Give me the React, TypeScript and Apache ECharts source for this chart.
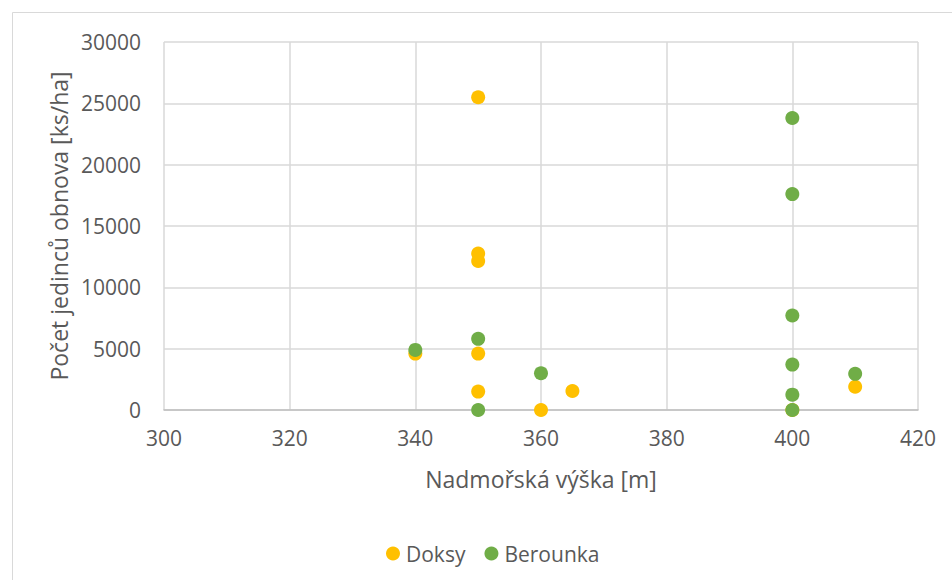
import React, { useEffect, useRef } from "react";
import * as echarts from "echarts";

const doksyX = [350, 350, 350, 350, 340, 350, 360, 365, 410, 400];
const doksyY = [25500, 12750, 12150, 4600, 4600, 1500, 0, 1550, 1900, 0];
const berounkaX = [340, 350, 350, 360, 400, 400, 400, 400, 400, 400, 410];
const berounkaY = [4900, 5800, 0, 3000, 23800, 17600, 7700, 3700, 1250, 0, 2950];

const xTitle = "Nadmořská výška [m]";
const yTitle = "Počet jedinců obnova [ks/ha]";
const FONT = "'Open Sans', 'Noto Sans', sans-serif";
const TXT = "#595959";

export default function App() {
  const ref = useRef<HTMLDivElement>(null);
  useEffect(() => {
    const chart = echarts.init(ref.current!, null, { renderer: "svg" });
    chart.setOption({
      animation: false,
      textStyle: { fontFamily: FONT },
      graphic: [
        {
          type: "rect",
          shape: { x: 12.5, y: 12.5, width: 960, height: 600 },
          style: { fill: "none", stroke: "#d9d9d9", lineWidth: 1 },
          silent: true,
        },
      ],
      grid: { left: 164, right: 34, top: 42, bottom: 170, containLabel: false },
      xAxis: {
        type: "value",
        min: 300,
        max: 420,
        interval: 20,
        name: xTitle,
        nameLocation: "middle",
        nameGap: 57,
        nameTextStyle: { color: TXT, fontSize: 23, fontFamily: FONT },
        axisLine: { show: true, lineStyle: { color: "#bfbfbf", width: 1.5 } },
        axisTick: { show: false },
        axisLabel: { color: TXT, fontSize: 21, margin: 17, fontFamily: FONT },
        splitLine: { show: true, lineStyle: { color: "#d9d9d9", width: 1.5 } },
      },
      yAxis: {
        type: "value",
        min: 0,
        max: 30000,
        interval: 5000,
        name: yTitle,
        nameLocation: "middle",
        nameGap: 90,
        nameTextStyle: { color: TXT, fontSize: 23, fontFamily: FONT },
        axisLine: { show: false },
        axisTick: { show: false },
        axisLabel: {
          color: TXT,
          fontSize: 21,
          margin: 23,
          fontFamily: FONT,
          formatter: (v: number) => String(v),
        },
        splitLine: { show: true, lineStyle: { color: "#d9d9d9", width: 1.5 } },
      },
      legend: {
        top: 538,
        left: 381,
        itemWidth: 14,
        itemHeight: 14,
        itemGap: 19,
        icon: "circle",
        textStyle: { color: TXT, fontSize: 21, fontFamily: FONT, padding: [0, 0, 0, 1] },
        data: ["Doksy", "Berounka"],
      },
      series: [
        {
          name: "Doksy",
          type: "scatter",
          symbolSize: 14,
          itemStyle: { color: "#FFC000", opacity: 1 },
          data: doksyX.map((x, i) => [x, doksyY[i]]),
        },
        {
          name: "Berounka",
          type: "scatter",
          symbolSize: 14,
          itemStyle: { color: "#70AD47", opacity: 1 },
          data: berounkaX.map((x, i) => [x, berounkaY[i]]),
        },
      ],
    });
    return () => chart.dispose();
  }, []);
  return (
    <div
      ref={ref}
      style={{ position: "absolute", left: 0, top: 0, width: 952, height: 580 }}
    />
  );
}
